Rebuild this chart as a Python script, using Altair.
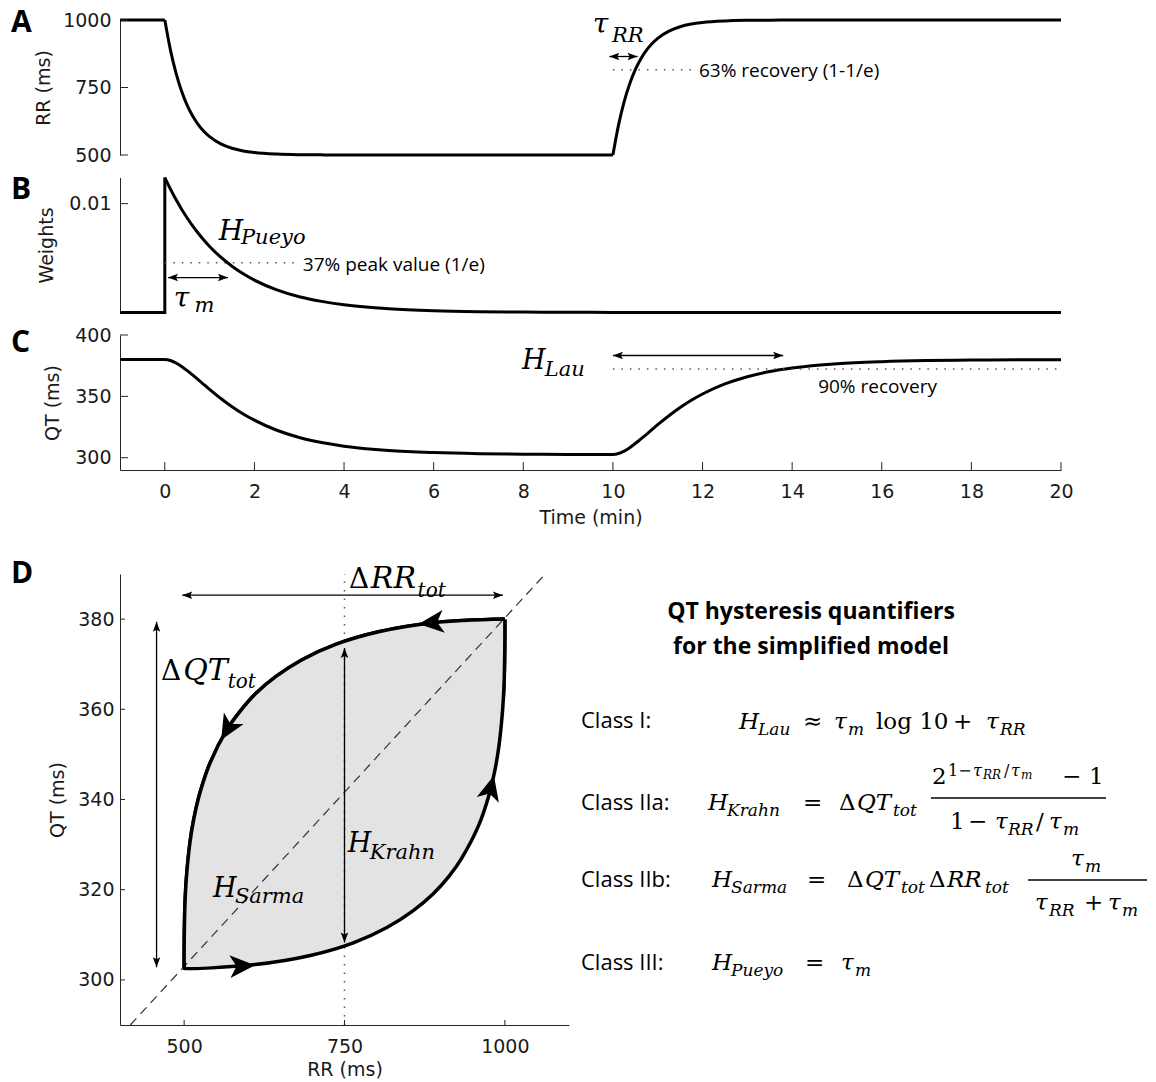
import altair as alt
import pandas as pd

# ------------------------------------------------------------------
# Values
# ------------------------------------------------------------------
TIME = [-1, 0, 0.125, 0.25, 0.375, 0.5, 0.625, 0.75, 0.875, 1, 1.25, 1.5, 1.75,
        2, 2.5, 3, 3.5, 4, 5, 6, 7, 8, 9, 10,
        10.125, 10.25, 10.375, 10.5, 10.625, 10.75, 10.875, 11, 11.25, 11.5, 11.75,
        12, 12.5, 13, 13.5, 14, 15, 16, 17, 18, 19, 20]
RR_MS = [1000, 1000, 889.4, 803.3, 736.2, 683.9, 643.3, 611.6, 586.9, 567.7, 541.0, 524.9, 515.1,
         509.2, 503.4, 501.2, 500.5, 500.2, 500.0, 500.0, 500.0, 500.0, 500.0, 500.0,
         610.6, 696.7, 763.8, 816.1, 856.7, 888.4, 913.1, 932.3, 959.0, 975.1, 984.9,
         990.8, 996.6, 998.8, 999.5, 999.8, 1000, 1000, 1000, 1000, 1000, 1000]
QT_MS = [380.0, 380.0, 379.2, 377.2, 374.4, 371.0, 367.3, 363.5, 359.5, 355.7, 348.3, 341.6, 335.7,
         330.6, 322.4, 316.5, 312.4, 309.4, 305.9, 304.2, 303.3, 302.9, 302.7, 302.6,
         303.4, 305.4, 308.2, 311.6, 315.3, 319.1, 323.0, 326.9, 334.2, 340.9, 346.8,
         351.9, 360.1, 366.0, 370.2, 373.1, 376.6, 378.3, 379.2, 379.6, 379.8, 379.9]
WEIGHT = [0, 0.0124, 0.01134, 0.01037, 0.00949, 0.00868, 0.00793, 0.00726, 0.00664, 0.00607, 0.00508, 0.00425, 0.00355,
          0.00297, 0.00208, 0.00145, 0.00102, 0.00071, 0.00035, 0.00017, 0.00008, 0.00004, 0.00002, 0.00001,
          0, 0, 0, 0, 0, 0, 0, 0, 0, 0, 0,
          0, 0, 0, 0, 0, 0, 0, 0, 0, 0, 0]
STEP_T = [-1, 0, 0]
STEP_W = [0, 0, 0.0124]

A_YTICKS = [500, 750, 1000]
B_YTICKS = [0.01]
C_YTICKS = [300, 350, 400]
TIME_TICKS = [0, 2, 4, 6, 8, 10, 12, 14, 16, 18, 20]
D_XTICKS = [500, 750, 1000]
D_YTICKS = [300, 320, 340, 360, 380]

LOOP_ARROW_RR = [886, 568, 590, 978]
LOOP_ARROW_QT = [379.2, 355.7, 303.1, 342.5]
LOOP_ARROW_DIR = [174, 120, 357, 284]

RR_63 = 816.0      # 63 % recovery level of RR
W_37 = 0.00456     # 37 % of the peak weight
QT_90 = 372.25     # 90 % recovery level of QT

# ------------------------------------------------------------------
# Layout / style
# ------------------------------------------------------------------
PW, PH = 941, 135          # panels A-C
DW, DH = 449, 451          # panel D
INK = "#000000"
AX = "#262626"
DOT = "#555555"
SANS = "DejaVu Sans"
TXT = "Open Sans"
MATH = "DejaVu Serif"
ONE = pd.DataFrame({"k": [0]})
HEAD = "M0,0 L-2,-0.75 L-1.6,0 L-2,0.75 Z"
LOOP_HEAD = "M1.1,0 L-1,-0.95 L-0.45,0 L-1,0.95 Z"

df = pd.DataFrame({"t": TIME, "rr": RR_MS, "qt": QT_MS, "w": WEIGHT})


def axis(**kw):
    base = dict(domainColor=AX, domainWidth=1, ticks=False, tickSize=0, grid=False,
                labelFont=SANS, labelFontSize=19, labelColor="#1a1a1a",
                titleFont=SANS, titleFontSize=19, titleFontWeight="normal", titleColor="#1a1a1a",
                labelFlush=False, labelOverlap=False, labelPadding=9)
    base.update(kw)
    return alt.Axis(**base)


def y_axis(values, title, tx, h, pad=9, fmt="d", z=0):
    return axis(values=values, title=title, titleX=tx, titleY=h / 2, titleAngle=270,
                titleAlign="center", titleBaseline="middle", labelPadding=pad, zindex=z, format=fmt)


def x_axis(values, title, ty, z=0):
    return axis(values=values, title=title, titleY=ty, titleBaseline="middle", format="d",
                titleAlign="center", labelPadding=12, labelBaseline="top", zindex=z)


def XD(v):
    return alt.XDatum(v, type="quantitative")


def YD(v):
    return alt.YDatum(v, type="quantitative")


def dtext(s, xv, yv, size, font=MATH, style="italic", weight="normal", align="left", baseline="alphabetic"):
    return alt.Chart(ONE).mark_text(text=s, font=font, fontSize=size, fontStyle=style, fontWeight=weight,
                                    align=align, baseline=baseline, color=INK).encode(x=XD(xv), y=YD(yv))


def ptext(s, x, y, size, font=MATH, style="italic", weight="normal", align="left", baseline="alphabetic"):
    return alt.Chart(ONE).mark_text(text=s, font=font, fontSize=size, fontStyle=style, fontWeight=weight,
                                    align=align, baseline=baseline, color=INK).encode(x=alt.value(x), y=alt.value(y))


def head(xv, yv, ang):
    return alt.Chart(ONE).mark_point(shape=HEAD, size=100, filled=True, color=INK, opacity=1,
                                     strokeWidth=0, angle=ang).encode(x=XD(xv), y=YD(yv))


def seg(x1, y1, x2, y2, color=INK, width=1.3, dash=None):
    kw = dict(color=color, strokeWidth=width)
    if dash:
        kw["strokeDash"] = dash
    return alt.Chart(ONE).mark_rule(**kw).encode(x=XD(x1), y=YD(y1), x2=alt.X2Datum(x2), y2=alt.Y2Datum(y2))


def dotted(x1, x2, y):
    return seg(x1, y, x2, y, color=DOT, width=1.5, dash=[1.5, 7])


def harrow(x1, x2, y):
    return [seg(x1, y, x2, y), head(x1, y, 180), head(x2, y, 0)]


def varrow(x, y1, y2):
    return [seg(x, y1, x, y2), head(x, y1, 90), head(x, y2, 270)]


def yticks(vals, length):
    return alt.Chart(pd.DataFrame({"v": vals})).mark_rule(color=AX, strokeWidth=1).encode(
        y=alt.Y("v:Q"), x=alt.value(0), x2=alt.value(length))


def xticks(vals, h, length):
    return alt.Chart(pd.DataFrame({"v": vals})).mark_rule(color=AX, strokeWidth=1).encode(
        x=alt.X("v:Q"), y=alt.value(h), y2=alt.value(h - length))


def letter(s, y):
    return ptext(s, -109, y, 30, font=TXT, style="normal", weight="bold", baseline="middle")


SX = alt.Scale(domain=[-1, 20], nice=False, zero=False)

# ------------------------------------------------------------------
# Panel A : RR
# ------------------------------------------------------------------
segA = pd.concat([df[df.t <= 0].assign(seg="pre"),
                  df[(df.t >= 0) & (df.t <= 10)].assign(seg="drop"),
                  df[df.t >= 10].assign(seg="rise")])
a_line = alt.Chart(segA).mark_line(color=INK, strokeWidth=3, interpolate="monotone").encode(
    x=alt.X("t:Q", scale=SX, axis=None),
    y=alt.Y("rr:Q", scale=alt.Scale(domain=[500, 1000], nice=False, zero=False),
            axis=y_axis(A_YTICKS, "RR (ms)", -77, PH)),
    detail="seg:N")
A = alt.layer(
    a_line,
    dotted(10, 11.8, RR_63),
    yticks(A_YTICKS, 8),
    *harrow(9.92, 10.55, 864.8),
    dtext("τ", 9.55, 953.7, 28),
    dtext("RR", 9.98, 916.7, 21),
    dtext("63% recovery (1-1/e)", 11.92, 790.7, 19, font=TXT, style="normal"),
    letter("A", 3),
).properties(width=PW, height=PH)

# ------------------------------------------------------------------
# Panel B : weights
# ------------------------------------------------------------------
b_step = alt.Chart(pd.DataFrame({"t": STEP_T, "w": STEP_W, "i": list(range(len(STEP_T)))})).mark_line(
    color=INK, strokeWidth=3).encode(
    x=alt.X("t:Q", scale=SX, axis=None),
    y=alt.Y("w:Q", scale=alt.Scale(domain=[0, 0.0124], nice=False, zero=False),
            axis=y_axis(B_YTICKS, "Weights", -73.5, PH, fmt=".2f")),
    order="i:Q")
b_decay = alt.Chart(df[df.t >= 0]).mark_line(color=INK, strokeWidth=3, interpolate="monotone").encode(
    x=alt.X("t:Q"), y=alt.Y("w:Q"))
B = alt.layer(
    b_step,
    dotted(0, 2.97, W_37),
    b_decay,
    yticks(B_YTICKS, 8),
    *harrow(0.07, 1.41, 0.00321),
    dtext("H", 1.205, 0.006705, 28),
    dtext("Pueyo", 1.70, 0.006246, 21),
    dtext("37% peak value (1/e)", 3.08, 0.00383, 19, font=TXT, style="normal"),
    dtext("τ", 0.2, 0.00055, 28),
    dtext("m", 0.66, 0.00009, 21),
    letter("B", 12.8),
).properties(width=PW, height=PH)

# ------------------------------------------------------------------
# Panel C : QT
# ------------------------------------------------------------------
c_line = alt.Chart(df).mark_line(color=INK, strokeWidth=3, interpolate="monotone").encode(
    x=alt.X("t:Q", scale=SX, axis=x_axis(TIME_TICKS, "Time (min)", 47.5)),
    y=alt.Y("qt:Q", scale=alt.Scale(domain=[290, 400], nice=False, zero=False),
            axis=y_axis(C_YTICKS, "QT (ms)", -68, PH)))
C = alt.layer(
    c_line,
    dotted(10, 20, QT_90),
    yticks(C_YTICKS, 8),
    xticks(TIME_TICKS, PH, 8),
    *harrow(10.0, 13.8, 383.3),
    dtext("H", 7.97, 371.9, 27),
    dtext("Lau", 8.48, 366.2, 21),
    dtext("90% recovery", 14.58, 353.1, 19, font=TXT, style="normal"),
    letter("C", 7.8),
).properties(width=PW, height=PH)

# ------------------------------------------------------------------
# Panel D : QT vs RR loop + quantifier text
# ------------------------------------------------------------------
DX = alt.Scale(domain=[400, 1100], nice=False, zero=False)
DY = alt.Scale(domain=[290, 390], nice=False, zero=False)
loop_df = df[df.t >= 0]
loop = alt.Chart(loop_df).mark_line(color=INK, strokeWidth=3.5, interpolate="catmull-rom",
                                    strokeJoin="round").encode(
    x=alt.X("rr:Q", scale=DX, axis=x_axis(D_XTICKS, "RR (ms)", 44.5, z=1)),
    y=alt.Y("qt:Q", scale=DY, axis=y_axis(D_YTICKS, "QT (ms)", -63, DH, pad=6, z=1)),
    order=alt.Order("t:Q"))
up_area = alt.Chart(df[(df.t >= 0) & (df.t <= 10)]).mark_area(color="#e3e3e3", opacity=1).encode(
    x=alt.X("rr:Q"), y=alt.Y("qt:Q"), y2=alt.Y2Datum(290))
low_area = alt.Chart(df[df.t >= 10]).mark_area(color="#ffffff", opacity=1).encode(
    x=alt.X("rr:Q"), y=alt.Y("qt:Q"), y2=alt.Y2Datum(290))
loop_heads = alt.Chart(pd.DataFrame({"rr": LOOP_ARROW_RR, "qt": LOOP_ARROW_QT, "ang": LOOP_ARROW_DIR})).mark_point(
    shape=LOOP_HEAD, size=576, filled=True, color=INK, opacity=1, strokeWidth=0).encode(
    x=alt.X("rr:Q"), y=alt.Y("qt:Q"), angle=alt.Angle("ang:Q", scale=None))

# quantifier text block (pixel layout, relative to the figure)
D_ORIGIN = (120, 572)
F_LAYOUT = [
    ("QT hysteresis quantifiers", 811, 617, 23, "title"),
    ("for the simplified model", 811, 652, 23, "title"),
    ("Class I:", 581, 726, 22, "sans"),
    ("Class IIa:", 581, 808, 22, "sans"),
    ("Class IIb:", 581, 885, 22, "sans"),
    ("Class III:", 581, 968, 22, "sans"),
    # Class I
    ("H", 739, 727, 23, "mi"), ("Lau", 758, 733, 17, "mi"), ("≈", 803, 727, 23, "mu"),
    ("τ", 834, 727, 23, "mi"), ("m", 848, 733, 17, "mi"), ("log 10", 876, 727, 23, "mu"),
    ("+", 953, 727, 23, "mu"), ("τ", 986, 727, 23, "mi"), ("RR", 1000, 733, 17, "mi"),
    # Class IIa
    ("H", 708, 808, 23, "mi"), ("Krahn", 727, 814, 17, "mi"), ("=", 803, 808, 23, "mu"),
    ("Δ", 839, 808, 23, "mu"), ("QT", 857, 808, 23, "mi"), ("tot", 893, 814, 17, "mi"),
    ("2", 932, 782, 23, "mu"), ("1−", 948, 774, 16, "mu"),
    ("τ", 973, 774, 16, "mi"), ("RR", 983, 777, 12, "mi"), ("/", 1004, 774, 16, "mu"),
    ("τ", 1011, 774, 16, "mi"), ("m", 1021, 777, 12, "mi"),
    ("−", 1062, 782, 23, "mu"), ("1", 1089, 782, 23, "mu"),
    ("1", 950, 827, 23, "mu"), ("−", 968, 827, 23, "mu"), ("τ", 995, 827, 23, "mi"),
    ("RR", 1008, 833, 17, "mi"), ("/", 1036, 827, 23, "mu"), ("τ", 1049, 827, 23, "mi"),
    ("m", 1063, 833, 17, "mi"),
    # Class IIb
    ("H", 712, 885, 23, "mi"), ("Sarma", 731, 891, 17, "mi"), ("=", 807, 885, 23, "mu"),
    ("Δ", 847, 885, 23, "mu"), ("QT", 865, 885, 23, "mi"), ("tot", 901, 891, 17, "mi"),
    ("Δ", 929, 885, 23, "mu"), ("RR", 947, 885, 23, "mi"), ("tot", 985, 891, 17, "mi"),
    ("τ", 1071, 864, 23, "mi"), ("m", 1085, 870, 17, "mi"),
    ("τ", 1035, 908, 23, "mi"), ("RR", 1049, 914, 17, "mi"), ("+", 1084, 908, 23, "mu"),
    ("τ", 1108, 908, 23, "mi"), ("m", 1122, 914, 17, "mi"),
    # Class III
    ("H", 712, 968, 23, "mi"), ("Pueyo", 731, 974, 17, "mi"), ("=", 805, 968, 23, "mu"),
    ("τ", 841, 968, 23, "mi"), ("m", 855, 974, 17, "mi"),
]
F_BARS = [(931, 1106, 796), (1028, 1147, 878)]

f_layers = []
for s, x, y, size, kind in F_LAYOUT:
    px, py = x - D_ORIGIN[0], y - D_ORIGIN[1]
    if kind == "title":
        f_layers.append(ptext(s, px, py, size, font=TXT, style="normal", weight="bold", align="center"))
    elif kind == "sans":
        f_layers.append(ptext(s, px, py, size, font=TXT, style="normal"))
    elif kind == "mi":
        f_layers.append(ptext(s, px, py, size, font=MATH, style="italic"))
    else:
        f_layers.append(ptext(s, px, py, size, font=MATH, style="normal"))
for x1, x2, y in F_BARS:
    f_layers.append(alt.Chart(ONE).mark_rule(color=INK, strokeWidth=1.3).encode(
        x=alt.value(x1 - D_ORIGIN[0]), x2=alt.value(x2 - D_ORIGIN[0]), y=alt.value(y - D_ORIGIN[1])))

D = alt.layer(
    loop,
    up_area, low_area,
    seg(416, 290, 1063, 390, color="#333333", width=1.2, dash=[9, 6]),
    seg(750, 290, 750, 390, color=DOT, width=1.5, dash=[1.5, 7]),
    loop.encode(),
    loop_heads,
    *harrow(497, 997, 385.3),
    *varrow(457, 302.8, 379.4),
    *varrow(750, 308.3, 373.6),
    dtext("Δ", 757, 386.9, 28, style="normal"),
    dtext("RR", 791, 386.9, 30),
    dtext("tot", 864, 385.0, 20),
    dtext("Δ", 463.9, 366.5, 28, style="normal"),
    dtext("QT", 498.5, 366.5, 30),
    dtext("tot", 568, 364.7, 20),
    dtext("H", 755.1, 328.3, 27),
    dtext("Krahn", 789.4, 326.8, 21),
    dtext("H", 544.9, 318.3, 27),
    dtext("Sarma", 579.1, 317.0, 21),
    yticks(D_YTICKS, 5),
    xticks(D_XTICKS, DH, 5),
    letter("D", -0.2),
    *f_layers,
).properties(width=DW, height=DH)

top = alt.vconcat(A, B, C, spacing=22.5, bounds="flush")
chart = alt.vconcat(top, D, spacing=30).properties(
    padding={"left": 11, "top": 8, "right": 2, "bottom": 2},
    background="white",
).configure_view(strokeWidth=0)

chart.save("out.html", embed_options={"renderer": "svg", "actions": False})
